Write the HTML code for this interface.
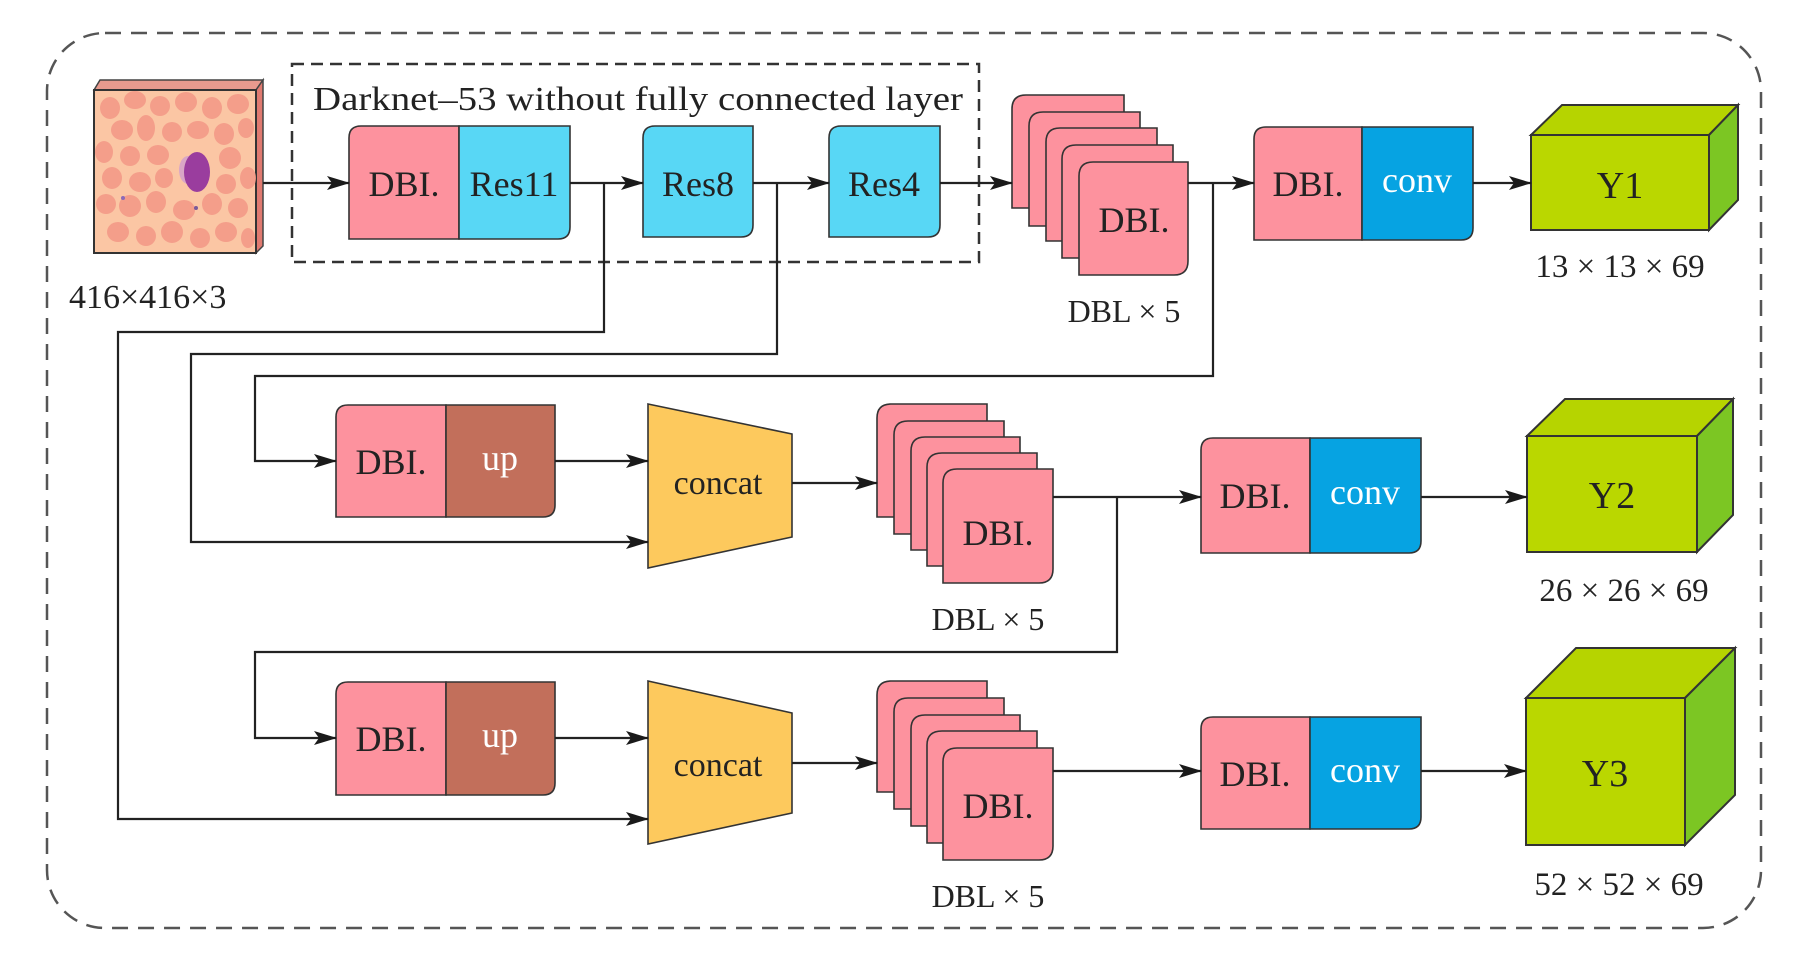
<!DOCTYPE html>
<html><head><meta charset="utf-8"><style>
html,body{margin:0;padding:0;background:#fff;}
svg{display:block;}
text{font-family:"Liberation Serif",serif;}
</style></head><body>
<svg width="1800" height="961" viewBox="0 0 1800 961" xmlns="http://www.w3.org/2000/svg">
<defs>
<marker id="ar" markerUnits="userSpaceOnUse" markerWidth="24" markerHeight="16" refX="22" refY="8" orient="auto">
<path d="M0,1 L23,8 L0,15 L5,8 Z" fill="#1a1a1a"/>
</marker>
</defs>
<!-- outer dashed -->
<rect x="47" y="33" width="1714" height="895" rx="58" ry="58" fill="none" stroke="#555" stroke-width="2.5" stroke-dasharray="16,10"/>
<!-- inner dashed -->
<rect x="292" y="64" width="687" height="198" fill="none" stroke="#333" stroke-width="2.5" stroke-dasharray="12,7"/>
<text x="313" y="110" font-size="34" fill="#222" textLength="650" lengthAdjust="spacingAndGlyphs">Darknet–53 without fully connected layer</text>

<!-- input image -->
<polygon points="94,90 100,80 263,80 256,90" fill="#e89a8e" stroke="#444" stroke-width="1.5"/>
<polygon points="256,90 263,80 263,246 256,253" fill="#e07a70" stroke="#444" stroke-width="1.5"/>
<rect x="94" y="90" width="162" height="163" fill="#fbc6a4" stroke="#333" stroke-width="2"/>
<g fill="#f49a88" opacity="0.9">
<ellipse cx="110" cy="108" rx="10" ry="11"/><ellipse cx="135" cy="100" rx="11" ry="9"/><ellipse cx="160" cy="106" rx="10" ry="10"/><ellipse cx="186" cy="102" rx="11" ry="10"/><ellipse cx="212" cy="108" rx="10" ry="11"/><ellipse cx="238" cy="104" rx="11" ry="10"/>
<ellipse cx="122" cy="130" rx="11" ry="10"/><ellipse cx="146" cy="128" rx="9" ry="13"/><ellipse cx="172" cy="132" rx="10" ry="10"/><ellipse cx="198" cy="130" rx="11" ry="9"/><ellipse cx="224" cy="134" rx="10" ry="11"/><ellipse cx="246" cy="128" rx="8" ry="10"/>
<ellipse cx="104" cy="152" rx="9" ry="11"/><ellipse cx="130" cy="156" rx="10" ry="10"/><ellipse cx="158" cy="155" rx="11" ry="10"/><ellipse cx="230" cy="158" rx="11" ry="11"/>
<ellipse cx="112" cy="178" rx="10" ry="11"/><ellipse cx="140" cy="182" rx="11" ry="10"/><ellipse cx="164" cy="178" rx="9" ry="10"/><ellipse cx="226" cy="184" rx="10" ry="10"/><ellipse cx="248" cy="178" rx="8" ry="11"/>
<ellipse cx="106" cy="204" rx="10" ry="10"/><ellipse cx="130" cy="206" rx="11" ry="11"/><ellipse cx="156" cy="202" rx="10" ry="11"/><ellipse cx="184" cy="210" rx="11" ry="10"/><ellipse cx="212" cy="204" rx="10" ry="11"/><ellipse cx="238" cy="208" rx="10" ry="10"/>
<ellipse cx="118" cy="232" rx="11" ry="10"/><ellipse cx="146" cy="236" rx="10" ry="10"/><ellipse cx="172" cy="232" rx="11" ry="11"/><ellipse cx="200" cy="238" rx="10" ry="10"/><ellipse cx="226" cy="232" rx="11" ry="10"/><ellipse cx="248" cy="238" rx="7" ry="10"/>
</g>
<ellipse cx="188" cy="170" rx="9" ry="14" fill="#d9a6c6"/>
<ellipse cx="197" cy="172" rx="13" ry="20" fill="#9a3d9e"/>
<circle cx="123" cy="198" r="2" fill="#8a6ab8"/><circle cx="196" cy="208" r="2" fill="#7a5a9a"/>
<text x="69" y="308" font-size="34" fill="#222">416×416×3</text>

<g stroke="#333" stroke-width="1.6">
<!-- row1 boxes -->
<path d="M361,126 H459 V239 H349 V138 Q349,126 361,126 Z" fill="#fd929e"/>
<path d="M459,126 H570 V227 Q570,239 558,239 H459 Z" fill="#58d7f5"/>
<path d="M655,126 H753 V225 Q753,237 741,237 H643 V138 Q643,126 655,126 Z" fill="#58d7f5"/>
<path d="M841,126 H940 V225 Q940,237 928,237 H829 V138 Q829,126 841,126 Z" fill="#58d7f5"/>
</g>
<g font-size="36" fill="#222" text-anchor="middle">
<text x="404" y="196">DBI.</text><text x="514" y="196">Res11</text><text x="698" y="196">Res8</text><text x="884" y="196">Res4</text>
</g>

<!-- stacks -->
<g stroke="#333" stroke-width="1.6" fill="#fd929e">
<path d="M1026,95 H1124 V208 H1012 V109 Q1012,95 1026,95 Z"/>
<path d="M1043,112 H1140 V226 H1029 V126 Q1029,112 1043,112 Z"/>
<path d="M1060,128 H1157 V241 H1046 V142 Q1046,128 1060,128 Z"/>
<path d="M1076,145 H1173 V258 H1062 V159 Q1062,145 1076,145 Z"/>
<path d="M1093,162 H1188 V261 Q1188,275 1174,275 H1079 V176 Q1079,162 1093,162 Z"/>

<path d="M891,404 H987 V517 H877 V418 Q877,404 891,404 Z"/>
<path d="M908,421 H1004 V534 H894 V435 Q894,421 908,421 Z"/>
<path d="M925,437 H1020 V550 H911 V451 Q911,437 925,437 Z"/>
<path d="M942,453 H1037 V566 H927 V467 Q927,453 942,453 Z"/>
<path d="M957,469 H1053 V569 Q1053,583 1039,583 H943 V483 Q943,469 957,469 Z"/>

<path d="M891,681 H987 V792 H877 V695 Q877,681 891,681 Z"/>
<path d="M908,698 H1004 V809 H894 V712 Q894,698 908,698 Z"/>
<path d="M925,715 H1020 V826 H911 V729 Q911,715 925,715 Z"/>
<path d="M942,731 H1037 V843 H927 V745 Q927,731 942,731 Z"/>
<path d="M957,748 H1053 V846 Q1053,860 1039,860 H943 V762 Q943,748 957,748 Z"/>
</g>
<g font-size="36" fill="#222" text-anchor="middle">
<text x="1134" y="232">DBI.</text>
<text x="998" y="545">DBI.</text>
<text x="998" y="818">DBI.</text>
</g>
<g font-size="32" fill="#222" text-anchor="middle">
<text x="1124" y="322">DBL × 5</text>
<text x="988" y="630">DBL × 5</text>
<text x="988" y="907">DBL × 5</text>
</g>

<!-- row2/3 DBL+up -->
<g stroke="#333" stroke-width="1.6">
<path d="M348,405 H446 V517 H336 V417 Q336,405 348,405 Z" fill="#fd929e"/>
<path d="M446,405 H555 V505 Q555,517 543,517 H446 Z" fill="#c26f5b"/>
<path d="M348,682 H446 V795 H336 V694 Q336,682 348,682 Z" fill="#fd929e"/>
<path d="M446,682 H555 V783 Q555,795 543,795 H446 Z" fill="#c26f5b"/>
<polygon points="648,404 792,434 792,537 648,568" fill="#fdc95d"/>
<polygon points="648,681 792,713 792,813 648,844" fill="#fdc95d"/>
</g>
<g font-size="36" text-anchor="middle">
<text x="391" y="474" fill="#222">DBI.</text><text x="500" y="470" fill="#fff">up</text>
<text x="391" y="751" fill="#222">DBI.</text><text x="500" y="747" fill="#fff">up</text>
</g>
<g font-size="34" fill="#222" text-anchor="middle">
<text x="718" y="494">concat</text><text x="718" y="776">concat</text>
</g>

<!-- output DBL+conv -->
<g stroke="#333" stroke-width="1.6">
<path d="M1266,127 H1362 V240 H1254 V139 Q1254,127 1266,127 Z" fill="#fd929e"/>
<path d="M1362,127 H1473 V228 Q1473,240 1461,240 H1362 Z" fill="#06a3e2"/>
<path d="M1213,438 H1310 V553 H1201 V450 Q1201,438 1213,438 Z" fill="#fd929e"/>
<path d="M1310,438 H1421 V541 Q1421,553 1409,553 H1310 Z" fill="#06a3e2"/>
<path d="M1213,717 H1310 V829 H1201 V729 Q1201,717 1213,717 Z" fill="#fd929e"/>
<path d="M1310,717 H1421 V817 Q1421,829 1409,829 H1310 Z" fill="#06a3e2"/>
</g>
<g font-size="36" text-anchor="middle">
<text x="1308" y="196" fill="#222">DBI.</text><text x="1417" y="192" fill="#fff">conv</text>
<text x="1255" y="508" fill="#222">DBI.</text><text x="1365" y="504" fill="#fff">conv</text>
<text x="1255" y="786" fill="#222">DBI.</text><text x="1365" y="782" fill="#fff">conv</text>
</g>

<!-- cubes -->
<g stroke="#333" stroke-width="2">
<polygon points="1531,135 1562,105 1738,105 1709,135" fill="#b6d400"/>
<polygon points="1709,135 1738,105 1738,200 1709,230" fill="#7cc623"/>
<rect x="1531" y="135" width="178" height="95" fill="#bad700"/>
<polygon points="1527,436 1565,399 1733,399 1697,436" fill="#b6d400"/>
<polygon points="1697,436 1733,399 1733,515 1697,552" fill="#7cc623"/>
<rect x="1527" y="436" width="170" height="116" fill="#bad700"/>
<polygon points="1526,698 1576,648 1735,648 1685,698" fill="#b6d400"/>
<polygon points="1685,698 1735,648 1735,795 1685,845" fill="#7cc623"/>
<rect x="1526" y="698" width="159" height="147" fill="#bad700"/>
</g>
<g font-size="38" fill="#222" text-anchor="middle">
<text x="1620" y="198">Y1</text><text x="1612" y="508">Y2</text><text x="1605" y="786">Y3</text>
</g>
<g font-size="33" fill="#222" text-anchor="middle">
<text x="1620" y="277">13 × 13 × 69</text>
<text x="1624" y="601">26 × 26 × 69</text>
<text x="1619" y="895">52 × 52 × 69</text>
</g>

<!-- connectors -->
<g stroke="#222" stroke-width="2.2" fill="none">
<line x1="263" y1="183" x2="349" y2="183" marker-end="url(#ar)"/>
<line x1="570" y1="183" x2="643" y2="183" marker-end="url(#ar)"/>
<line x1="753" y1="183" x2="829" y2="183" marker-end="url(#ar)"/>
<line x1="940" y1="183" x2="1012" y2="183" marker-end="url(#ar)"/>
<line x1="1188" y1="183" x2="1254" y2="183" marker-end="url(#ar)"/>
<line x1="1473" y1="183" x2="1531" y2="183" marker-end="url(#ar)"/>
<polyline points="604,183 604,332 118,332 118,819 648,819" marker-end="url(#ar)"/>
<polyline points="777,183 777,354 191,354 191,542 648,542" marker-end="url(#ar)"/>
<polyline points="1213,183 1213,376 255,376 255,461 336,461" marker-end="url(#ar)"/>
<line x1="555" y1="461" x2="648" y2="461" marker-end="url(#ar)"/>
<line x1="792" y1="483" x2="877" y2="483" marker-end="url(#ar)"/>
<line x1="1053" y1="497" x2="1201" y2="497" marker-end="url(#ar)"/>
<line x1="1421" y1="497" x2="1527" y2="497" marker-end="url(#ar)"/>
<polyline points="1117,497 1117,652 255,652 255,738 336,738" marker-end="url(#ar)"/>
<line x1="555" y1="738" x2="648" y2="738" marker-end="url(#ar)"/>
<line x1="792" y1="763" x2="877" y2="763" marker-end="url(#ar)"/>
<line x1="1053" y1="771" x2="1201" y2="771" marker-end="url(#ar)"/>
<line x1="1421" y1="771" x2="1526" y2="771" marker-end="url(#ar)"/>
</g>
</svg>
</body></html>
